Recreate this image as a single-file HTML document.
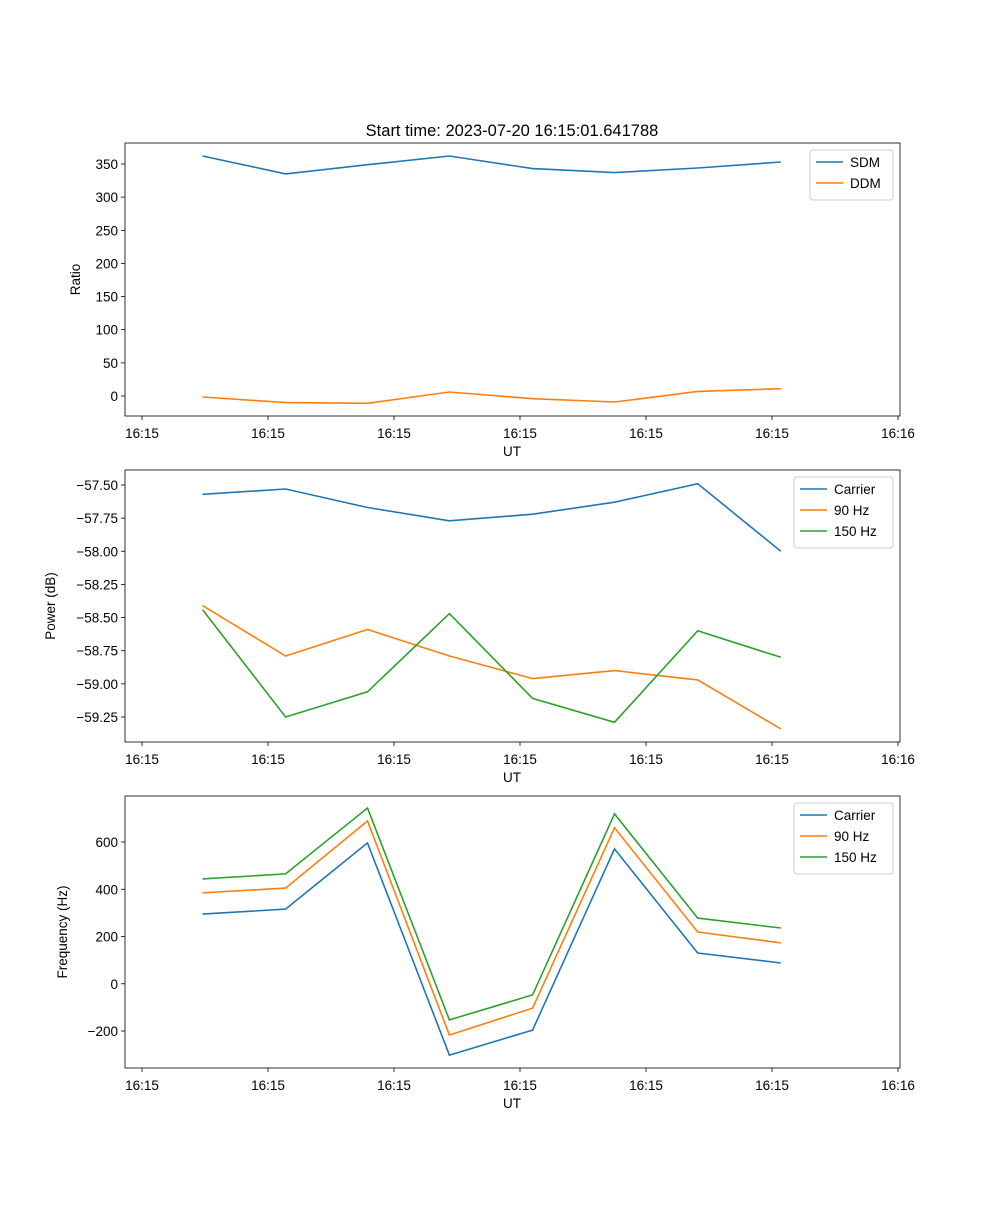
<!DOCTYPE html>
<html><head><meta charset="utf-8"><style>
body{margin:0;background:#fff;}
svg text{font-family:"Liberation Sans","DejaVu Sans",sans-serif;font-size:13.5px;fill:#000;}
</style></head><body>
<svg id="fig" width="1000" height="1200" xmlns="http://www.w3.org/2000/svg">
<rect width="1000" height="1200" fill="#fff"/>
<text x="512" y="136" text-anchor="middle" style="font-size:16.5px">Start time: 2023-07-20 16:15:01.641788</text>
</svg>
<script>
const times=[4.8,11.4,17.9,24.4,31.0,37.5,44.1,50.7];
const xTickVals=[0,10,20,30,40,50,60];
const xTickLabels=["16:15","16:15","16:15","16:15","16:15","16:15","16:16"];
const sdm=[362,335,349,362,343,337,344,353];
const ddm=[-1.5,-10,-11,6,-4,-9,7,11];
const pCarrier=[-57.57,-57.53,-57.67,-57.77,-57.72,-57.63,-57.49,-58.00];
const p90=[-58.41,-58.79,-58.59,-58.79,-58.96,-58.90,-58.97,-59.34];
const p150=[-58.44,-59.25,-59.06,-58.47,-59.11,-59.29,-58.60,-58.80];
const fCarrier=[295,316,596,-302,-196,571,130,88];
const f90=[385,405,689,-217,-103,660,219,173];
const f150=[444,465,744,-153,-47,719,278,236];
const yTicks1=[0,50,100,150,200,250,300,350];
const yTicks2=[-59.25,-59.00,-58.75,-58.50,-58.25,-58.00,-57.75,-57.50];
const yTicks3=[-200,0,200,400,600];

const NS="http://www.w3.org/2000/svg";
const svg=document.getElementById('fig');
const C=["#1f77b4","#ff7f0e","#2ca02c"];
function mk(tag,attrs,parent){const e=document.createElementNS(NS,tag);for(const k in attrs)e.setAttribute(k,attrs[k]);(parent||svg).appendChild(e);return e;}
const xL=125,xR=900;
function xs(t){return 142+(t/60)*(898-142);}
function panel(p){
  const g=mk('g',{});
  
  
  const ys=v=>p.y0px+(v-p.v0)*(p.y1px-p.y0px)/(p.v1-p.v0);
  xTickVals.forEach((t,i)=>{
    const x=xs(t);
    mk('line',{x1:x,x2:x,y1:p.bot,y2:p.bot+4,stroke:'#000','stroke-width':0.8},g);
    const tx=mk('text',{x:x,y:p.bot+22,'text-anchor':'middle'},g);tx.textContent=xTickLabels[i];
    
    
  });
  p.yt.forEach(v=>{
    const y=ys(v);
    mk('line',{x1:xL-4,x2:xL,y1:y,y2:y,stroke:'#000','stroke-width':0.8},g);
    const tx=mk('text',{x:xL-7,y:y+5,'text-anchor':'end'},g);tx.textContent=p.fmt(v);
    
    
  });
  const xl=mk('text',{x:512,y:p.bot+40,'text-anchor':'middle'},g);xl.textContent='UT';
  
  
  const cy=(p.top+p.bot)/2;
  const yl=mk('text',{x:p.ylx,y:cy,'text-anchor':'middle',transform:`rotate(-90 ${p.ylx} ${cy})`},g);yl.textContent=p.ylabel;
  
  
  p.series.forEach((s,i)=>{
    const pts=s.data.map((v,j)=>xs(times[j]).toFixed(1)+','+ys(v).toFixed(1)).join(' ');
    const pl=mk('polyline',{points:pts,fill:'none',stroke:C[i],'stroke-width':1.6},g);
    
    
  });
  mk('rect',{x:xL,y:p.top,width:xR-xL,height:p.bot-p.top,fill:'none',stroke:'#000','stroke-width':0.8},g);
  const lw=p.legW,lh=8+p.series.length*21,lx=893-lw,ly=p.top+7;
  const lg=mk('g',{},g);
  
  
  mk('rect',{x:lx,y:ly,width:lw,height:lh,rx:3,fill:'#fff',stroke:'#ccc','stroke-width':1},lg);
  p.series.forEach((s,i)=>{
    const yy=ly+12+i*21;
    mk('line',{x1:lx+6,x2:lx+33,y1:yy,y2:yy,stroke:C[i],'stroke-width':1.6},lg);
    const t=mk('text',{x:lx+40,y:yy+5},lg);t.textContent=s.label;
    
    
  });
}
panel({name:'ratio-panel',top:143,bot:416,v0:0,v1:350,y0px:396,y1px:164,yt:yTicks1,fmt:v=>String(v),ylabel:'Ratio',ylx:80,legW:83,
  series:[{key:'sdm',label:'SDM',data:sdm},{key:'ddm',label:'DDM',data:ddm}]});
panel({name:'power-panel',top:470,bot:742,v0:-57.5,v1:-59.25,y0px:485,y1px:717,yt:yTicks2,fmt:v=>'\u2212'+Math.abs(v).toFixed(2),ylabel:'Power (dB)',ylx:55,legW:99,
  series:[{key:'carrier',label:'Carrier',data:pCarrier},{key:'90hz',label:'90 Hz',data:p90},{key:'150hz',label:'150 Hz',data:p150}]});
panel({name:'frequency-panel',top:796,bot:1068,v0:0,v1:600,y0px:983.75,y1px:842,yt:yTicks3,fmt:v=>v<0?'\u2212'+Math.abs(v):String(v),ylabel:'Frequency (Hz)',ylx:67,legW:99,
  series:[{key:'carrier',label:'Carrier',data:fCarrier},{key:'90hz',label:'90 Hz',data:f90},{key:'150hz',label:'150 Hz',data:f150}]});
</script>
</body></html>
